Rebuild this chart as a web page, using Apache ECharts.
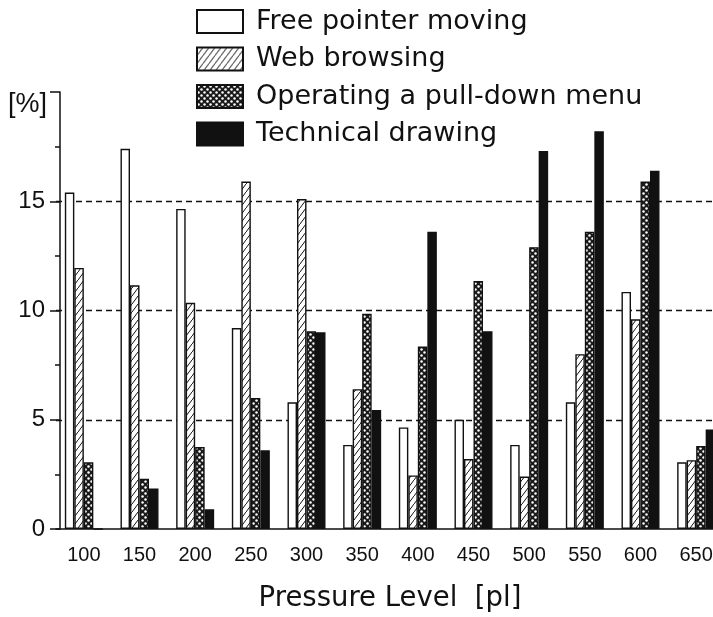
<!DOCTYPE html>
<html>
<head>
<meta charset="utf-8">
<script src="https://cdn.jsdelivr.net/npm/echarts@6/dist/echarts.min.js"></script>
<style>html,body{margin:0;padding:0;background:#fff;}#c{width:713px;height:617px;}</style>
</head>
<body>
<div id="c"></div>
<script>
const categories = ['100','150','200','250','300','350','400','450','500','550','600','650'];
const freePointer = [15.4, 17.4, 14.65, 9.2, 5.8, 3.85, 4.65, 5.0, 3.85, 5.8, 10.85, 3.05];
const webBrowsing = [11.95, 11.15, 10.35, 15.9, 15.1, 6.4, 2.45, 3.2, 2.4, 8.0, 9.6, 3.15];
const pullDown = [3.05, 2.3, 3.75, 6.0, 9.05, 9.85, 8.35, 11.35, 12.9, 13.6, 15.9, 3.8];
const drawing = [0, 1.85, 0.9, 3.6, 9.0, 5.45, 13.6, 9.05, 17.3, 18.2, 16.4, 4.55];
const seriesNames = ['Free pointer moving','Web browsing','Operating a pull-down menu','Technical drawing'];
const yTicks = [0, 5, 10, 15];

function hatch() {
  const c = document.createElement('canvas'); c.width = 6; c.height = 8;
  const g = c.getContext('2d');
  g.fillStyle = '#fff'; g.fillRect(0,0,6,8);
  g.strokeStyle = '#111'; g.lineWidth = 1;
  g.beginPath(); g.moveTo(-1, 9.33); g.lineTo(7, -1.33); g.stroke();
  return { image: c, repeat: 'repeat' };
}
function cross() {
  const c = document.createElement('canvas'); c.width = 6; c.height = 6;
  const g = c.getContext('2d');
  g.fillStyle = '#1a1a1a'; g.fillRect(0,0,6,6);
  g.fillStyle = '#fff';
  g.beginPath(); g.arc(1.5,1.5,1.25,0,Math.PI*2); g.fill();
  g.beginPath(); g.arc(4.5,4.5,1.25,0,Math.PI*2); g.fill();
  return { image: c, repeat: 'repeat' };
}
const fills = ['#ffffff', hatch(), cross(), '#111111'];
const values = [freePointer, webBrowsing, pullDown, drawing];
const font = 'Liberation Sans, Arial, sans-serif';
const wideFont = 'DejaVu Sans, sans-serif';

const chart = echarts.init(document.getElementById('c'));
chart.setOption({
  backgroundColor: '#fff',
  animation: false,
  legend: {
    orient: 'vertical', left: 191, top: 3, icon: 'rect',
    itemWidth: 46, itemHeight: 23, itemGap: 10.5,
    data: seriesNames,
    textStyle: { fontFamily: wideFont, fontSize: 27, color: '#111', padding: [0,0,0,8], lineHeight: 23 }
  },
  grid: { left: 56, top: 92, width: 668, bottom: 88, outerBoundsMode: 'none' },
  xAxis: {
    type: 'category', data: categories,
    name: 'Pressure Level  [pl]', nameLocation: 'middle', nameGap: 56,
    nameTextStyle: { fontFamily: wideFont, fontSize: 27.5, color: '#111' },
    axisLine: { show: true, lineStyle: { color: '#111', width: 1.5 } },
    axisTick: { show: false },
    axisLabel: { fontFamily: font, fontSize: 20, color: '#111', margin: 16 }
  },
  yAxis: {
    type: 'value', min: 0, max: 20, interval: 5, offset: -4,
    name: '[%]', nameLocation: 'end', nameGap: -13,
    nameTextStyle: { fontFamily: font, fontSize: 27, color: '#111', align: 'right', verticalAlign: 'middle', padding: [0, 13, 0, 0] },
    axisLine: { show: true, lineStyle: { color: '#111', width: 1.5 } },
    axisTick: { show: true, length: 10, lineStyle: { color: '#111', width: 1.5 } },
    minorTick: { show: true, splitNumber: 2, length: 5, lineStyle: { color: '#111', width: 1.5 } },
    axisLabel: { fontFamily: font, fontSize: 24, color: '#111', margin: 15,
      formatter: v => yTicks.includes(v) ? String(v) : '' },
    splitLine: { show: true, showMinLine: false, showMaxLine: false, lineStyle: { color: '#111', width: 1.3, type: [6, 4] } }
  },
  series: seriesNames.map((n, i) => ({
    name: n, type: 'bar', data: values[i],
    barWidth: 9.5, barGap: '0%',
    itemStyle: { color: fills[i], borderColor: '#111', borderWidth: 1.4 }
  }))
});
</script>
</body>
</html>
